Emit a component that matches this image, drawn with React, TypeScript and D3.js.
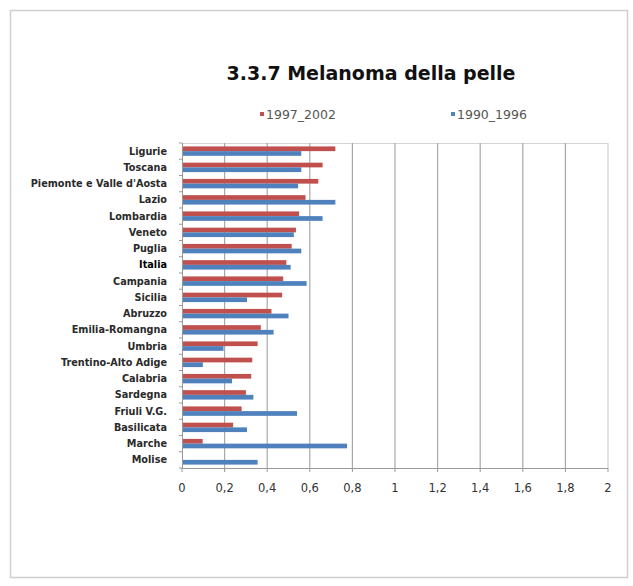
import * as d3 from "d3";

const regions = [
  "Ligurie", "Toscana", "Piemonte e Valle d'Aosta", "Lazio", "Lombardia",
  "Veneto", "Puglia", "Italia", "Campania", "Sicilia", "Abruzzo",
  "Emilia-Romangna", "Umbria", "Trentino-Alto Adige", "Calabria",
  "Sardegna", "Friuli V.G.", "Basilicata", "Marche", "Molise",
];
const series1997 = [
  0.72, 0.66, 0.64, 0.58, 0.55, 0.535, 0.515, 0.49, 0.475, 0.47, 0.42,
  0.37, 0.355, 0.33, 0.325, 0.30, 0.28, 0.24, 0.097, 0,
];
const series1990 = [
  0.56, 0.56, 0.545, 0.72, 0.66, 0.525, 0.56, 0.51, 0.585, 0.305, 0.50,
  0.43, 0.195, 0.098, 0.235, 0.335, 0.54, 0.305, 0.775, 0.355,
];
const seriesNames = ["1997_2002", "1990_1996"];
const xTicks = [0, 0.2, 0.4, 0.6, 0.8, 1, 1.2, 1.4, 1.6, 1.8, 2];

const colors = ["#c0504d", "#4f81bd"];
const plot = { left: 182, right: 608, top: 143, bottom: 468 };
const font = "'DejaVu Sans', Verdana, sans-serif";

const App = () => {
  const x = d3.scaleLinear().domain([0, 2]).range([plot.left, plot.right]);
  const y = d3.scaleBand().domain(regions).range([plot.top, plot.bottom])
    .paddingInner(0.42).paddingOuter(0.21);
  const sub = d3.scaleBand().domain(seriesNames).range([0, y.bandwidth()]);
  const fmt = (d: number) => d3.format("~g")(d).replace(".", ",");
  const step = y.step();

  return (
    <svg width={633} height={586} style={{ position: "absolute", left: 0, top: 0 }}>
      <rect x={0} y={0} width={633} height={586} fill="#fff" />
      {/* frame */}
      <rect x={10.5} y={10.5} width={617} height={567} fill="none" stroke="#cfcfcf" strokeWidth={1.5} />

      <text x={371} y={80} textAnchor="middle" fontFamily={font} fontWeight="bold" fontSize={19} fill="#111">
        3.3.7 Melanoma della pelle
      </text>

      {/* legend */}
      {seriesNames.map((s, i) => (
        <g key={s} transform={`translate(${i === 0 ? 260 : 451},0)`}>
          <rect x={0} y={112} width={4} height={4} fill={colors[i]} />
          <text x={6} y={119} fontFamily={font} fontSize={12.5} fill="#555">{s}</text>
        </g>
      ))}

      {/* plot border */}
      <line x1={plot.left} x2={plot.right} y1={plot.top + 0.5} y2={plot.top + 0.5} stroke="#d4d4d4" />

      {/* gridlines */}
      {xTicks.slice(1).map(t => (
        <line key={t} x1={x(t)} x2={x(t)} y1={plot.top} y2={plot.bottom}
          stroke={t === 2 ? "#d0d0d0" : "#a8a8a8"} strokeWidth={1.2} />
      ))}

      {/* bars */}
      {regions.map((r, i) => (
        <g key={r} transform={`translate(0,${y(r)})`}>
          <rect x={x(0)} y={sub(seriesNames[0])} width={x(series1997[i]) - x(0)} height={sub.bandwidth()} fill={colors[0]} />
          <rect x={x(0)} y={sub(seriesNames[1])} width={x(series1990[i]) - x(0)} height={sub.bandwidth()} fill={colors[1]} />
        </g>
      ))}

      {/* y axis */}
      <line x1={plot.left + 0.5} x2={plot.left + 0.5} y1={plot.top} y2={plot.bottom} stroke="#999" />
      {d3.range(regions.length + 1).map(i => (
        <line key={i} x1={plot.left - 3} x2={plot.left} y1={plot.top + i * step} y2={plot.top + i * step} stroke="#999" />
      ))}
      {regions.map(r => (
        <text key={r} x={167} y={(y(r) as number) + y.bandwidth() / 2 + 3.5} textAnchor="end"
          fontFamily={font} fontWeight="bold" fontSize={9.7} fill={r === "Italia" ? "#000" : "#2a2a2a"}>
          {r}
        </text>
      ))}

      {/* x axis */}
      <line x1={plot.left} x2={plot.right} y1={plot.bottom + 0.5} y2={plot.bottom + 0.5} stroke="#999" />
      {xTicks.map(t => (
        <g key={t}>
          <line x1={x(t)} x2={x(t)} y1={plot.bottom} y2={plot.bottom + 4} stroke="#999" />
          <text x={x(t)} y={492} textAnchor="middle" fontFamily={font} fontSize={11.5} fill="#333">{fmt(t)}</text>
        </g>
      ))}
    </svg>
  );
};

export default App;
